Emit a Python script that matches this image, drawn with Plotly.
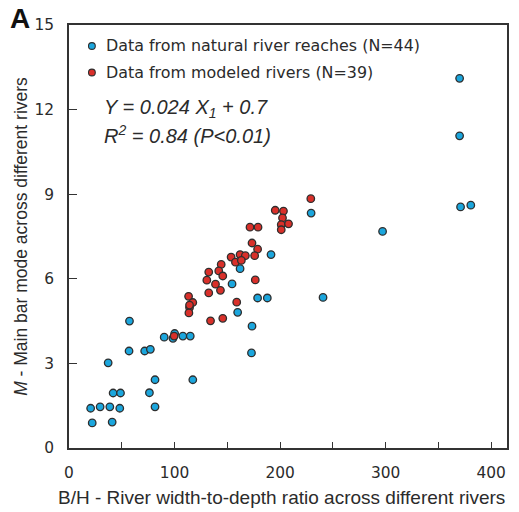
import plotly.graph_objects as go

# ---- data ----
natural_x = [370.1, 370.1, 371.0, 380.7, 229.4, 297.1, 191.4, 162.1, 154.5, 178.7,
             187.9, 240.7, 159.8, 173.4, 172.9, 107.9, 114.9, 100.1, 98.5, 90.2,
             71.7, 77.1, 56.9, 57.3, 37.1, 81.5, 117.3, 41.8, 48.8, 76.2,
             20.5, 29.5, 38.7, 48.1, 81.5, 22.0, 40.9]
natural_y = [13.11, 11.07, 8.55, 8.61, 8.33, 7.68, 6.86, 6.36, 5.82, 5.32,
             5.32, 5.34, 4.81, 4.32, 3.37, 3.97, 3.97, 4.06, 3.89, 3.93,
             3.44, 3.50, 3.44, 4.50, 3.02, 2.42, 2.42, 1.95, 1.95, 1.96,
             1.41, 1.46, 1.46, 1.41, 1.46, 0.89, 0.92]

modeled_x = [195.4, 203.2, 202.3, 201.1, 208.0, 201.1, 171.5, 179.1, 173.4, 178.7,
             175.9, 153.6, 162.1, 167.1, 157.7, 163.3, 144.2, 132.4, 141.9, 145.7,
             130.6, 138.8, 143.5, 132.4, 176.5, 113.3, 117.3, 114.2, 113.6, 158.9,
             134.1, 145.7, 229.1, 99.6, 114.2]
modeled_y = [8.43, 8.40, 8.16, 7.92, 7.95, 7.74, 7.83, 7.83, 7.27, 7.05,
             6.82, 6.77, 6.86, 6.82, 6.59, 6.65, 6.51, 6.24, 6.28, 6.10,
             5.95, 5.81, 5.59, 5.50, 5.96, 5.38, 5.16, 4.98, 4.79, 5.17,
             4.51, 4.60, 8.84, 3.97, 5.07]

x_ticks = [0, 100, 200, 300, 400]
y_ticks = [0, 3, 6, 9, 12, 15]

legend_labels = ["Data from natural river reaches (N=44)",
                 "Data from modeled rivers (N=39)"]
equation_lines = ["<i>Y = 0.024 X<sub>1</sub> + 0.7</i>",
                  "<i>R<sup>2</sup> = 0.84 (P<0.01)</i>"]
x_title = "B/H - River width-to-depth ratio across different rivers"
y_title = "<i>M</i> - Main bar mode across different rivers"

BLUE = "#1BA6DD"
RED = "#D9302A"
EDGE = "#2E2E2E"
AXC = "#333333"
TXT = "#2b2b2b"

W, H = 519, 512
L, R, T, B = 69, 10, 25, 64
PW, PH = W - L - R, H - T - B


def px(xp):
    return (xp - L) / PW


def py(yp):
    return (H - B - yp) / PH


fig = go.Figure()
fig.add_trace(go.Scatter(x=natural_x, y=natural_y, mode="markers", name=legend_labels[0],
                         marker=dict(size=7.5, color=BLUE, line=dict(color=EDGE, width=1.3)),
                         showlegend=False, cliponaxis=False))
fig.add_trace(go.Scatter(x=modeled_x, y=modeled_y, mode="markers", name=legend_labels[1],
                         marker=dict(size=7.5, color=RED, line=dict(color=EDGE, width=1.3)),
                         showlegend=False, cliponaxis=False))

shapes = []
annotations = []
for i, (lab, col) in enumerate(zip(legend_labels, [BLUE, RED])):
    yc = 46 + i * 26.5
    shapes.append(dict(type="circle", xref="paper", yref="paper",
                       xsizemode="pixel", ysizemode="pixel",
                       xanchor=px(92), yanchor=py(yc), x0=-3.4, x1=3.4, y0=-3.4, y1=3.4,
                       fillcolor=col, line=dict(color=EDGE, width=1.1)))
    annotations.append(dict(xref="paper", yref="paper", x=px(104), y=py(yc),
                            xanchor="left", yanchor="middle", showarrow=False, text=lab,
                            font=dict(family="DejaVu Sans", size=15.9, color=TXT)))

for i, line in enumerate(equation_lines):
    annotations.append(dict(xref="paper", yref="paper", x=px(102), y=py(109 + i * 25),
                            xanchor="left", yanchor="middle", showarrow=False, text=line,
                            font=dict(family="Liberation Sans", size=20, color=TXT)))

annotations.append(dict(xref="paper", yref="paper", x=px(8), y=py(18),
                        xanchor="left", yanchor="middle", showarrow=False, text="<b>A</b>",
                        font=dict(family="Liberation Sans", size=28, color="#111")))

# x-axis title (placed as annotation to match the reference's horizontal offset)
annotations.append(dict(xref="paper", yref="paper", x=px(282), y=py(497),
                        xanchor="center", yanchor="middle", showarrow=False, text=x_title,
                        font=dict(family="Liberation Sans", size=19, color=TXT)))

fig.update_layout(
    width=W, height=H, margin=dict(l=L, r=R, t=T, b=B),
    paper_bgcolor="white", plot_bgcolor="white",
    shapes=shapes, annotations=annotations,
    font=dict(family="DejaVu Sans", color=TXT),
)
fig.update_xaxes(range=[0, 415], tickvals=x_ticks, ticks="inside", ticklen=6, tickwidth=1.3,
                 tickcolor=AXC, showline=True, linecolor=AXC, linewidth=1.5, mirror=True,
                 showgrid=False, zeroline=False,
                 minor=dict(dtick=50, tick0=0, ticks="inside", ticklen=6, tickwidth=1.3,
                            tickcolor=AXC, showgrid=False),
                 tickfont=dict(family="DejaVu Sans", size=15.4, color=TXT),
                 ticklabelstandoff=10)
fig.update_yaxes(range=[0, 15], tickvals=y_ticks, ticks="inside", ticklen=8, tickwidth=1.3,
                 tickcolor=AXC, showline=True, linecolor=AXC, linewidth=1.5, mirror=True,
                 showgrid=False, zeroline=False,
                 tickfont=dict(family="DejaVu Sans", size=15.4, color=TXT),
                 ticklabelstandoff=10,
                 title=dict(text=y_title,
                            font=dict(family="Liberation Sans", size=17.5, color=TXT), standoff=2))

fig.write_html("out.html")
